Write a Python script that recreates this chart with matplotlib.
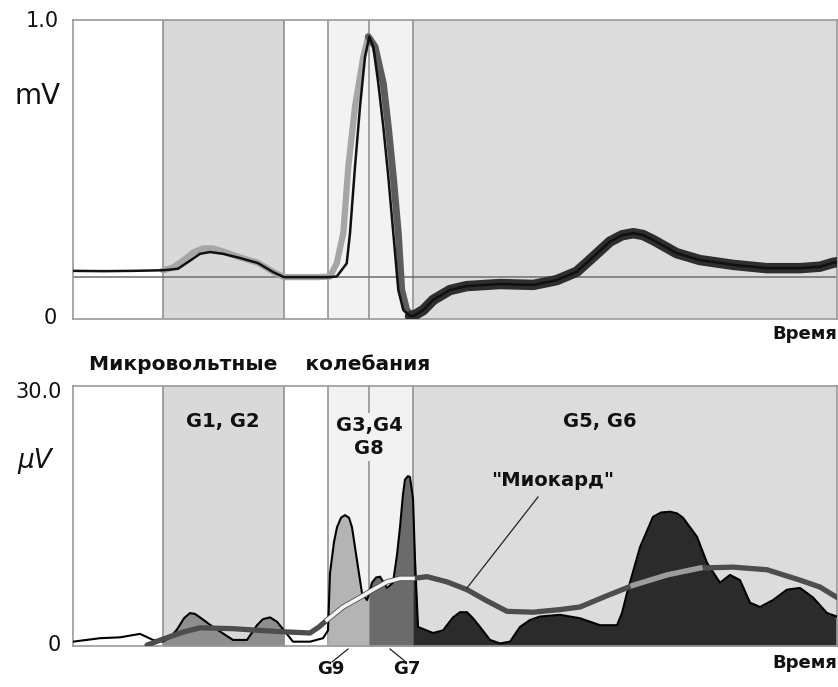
import matplotlib
matplotlib.use('Agg')
import matplotlib.pyplot as plt
import numpy as np

# ---------------- data ----------------
zone_edges = [0, 90, 211, 255, 296, 340, 764]
zone_colors = ['#ffffff', '#d9d9d9', '#ffffff', '#f2f2f2', '#f2f2f2', '#dcdcdc']
boundaries = [90, 211, 255, 296, 340]
baseline_mv = 0.14

# ECG (mV), black trace
ecg_t = [0, 30, 60, 90, 105, 117, 127, 137, 150, 167, 185, 200, 211, 230, 255,
         263.7, 273.7, 277, 282, 287, 292, 296.3, 300.3, 305.3, 310.3, 315.3, 320.3,
         325.3, 330.3, 337, 340.3, 350.3, 360.3, 377, 393.7, 427, 460.3, 483.7,
         503.7, 520.3, 537, 549, 560.3, 570, 580.3, 603.7, 627, 660.3, 693.7, 727, 747,
         760.3, 764]
ecg_mv = [0.161, 0.160, 0.161, 0.163, 0.168, 0.195, 0.218, 0.224, 0.218, 0.204, 0.187,
          0.157, 0.14, 0.14, 0.14,
          0.142, 0.186, 0.287, 0.509, 0.710, 0.877, 0.944, 0.911, 0.788, 0.643, 0.476,
          0.287, 0.097, 0.030, 0.010, 0.010, 0.030, 0.064, 0.097, 0.110, 0.117, 0.114,
          0.130, 0.158, 0.208, 0.259, 0.280, 0.287, 0.281, 0.264, 0.220, 0.197, 0.181,
          0.170, 0.170, 0.175, 0.188, 0.19]
# ECG (mV), grey overlaid beats
gray_t = [90, 100, 110, 120, 130, 140, 150, 167, 185, 200, 211, 245, 257, 263.7, 270.3,
          275.3, 282, 290.3, 295.3, 302, 310.3, 315.3, 320.3, 325.3, 328.7, 333.7, 340.3]
gray_mv = [0.163, 0.172, 0.195, 0.222, 0.236, 0.236, 0.226, 0.206, 0.188, 0.158, 0.14,
           0.14, 0.142, 0.186, 0.287, 0.509, 0.71, 0.877, 0.944, 0.911, 0.788, 0.643,
           0.476, 0.287, 0.097, 0.030, 0.008]

# micro-voltage signal (uV)
sig_t = [0, 27, 47, 67, 80, 90, 97, 104, 111, 117, 122, 127, 140, 160, 174, 184, 190,
         197, 204, 211, 220, 237, 250, 255, 257, 261, 264, 268, 272, 276, 279, 285, 289,
         294, 296, 299, 303, 307, 314, 320, 324, 327, 330, 332, 335, 337, 340, 342, 345,
         360, 370, 380, 387, 394, 400, 407, 417, 427, 437, 447, 457, 467, 487, 507, 527,
         544, 549, 554, 567, 580, 588, 597, 604, 610, 624, 634, 647, 657, 667, 677, 687,
         700, 714, 727, 740, 754, 764]
sig_uv = [0.5, 0.9, 1.0, 1.4, 0.7, 0.5, 1.0, 1.9, 3.2, 3.8, 3.7, 3.3, 2.2, 0.7, 0.7,
          2.4, 3.1, 3.3, 2.8, 1.8, 0.5, 0.5, 0.9, 1.8, 8.4, 12.0, 13.7, 14.8, 15.1,
          14.8, 13.7, 9.1, 6.1, 5.3, 6.0, 7.3, 7.9, 8.0, 6.7, 7.3, 10.5, 13.7, 17.5, 19.2,
          19.6, 19.5, 17.0, 10.0, 2.2, 1.5, 1.8, 3.3, 3.9, 3.9, 3.2, 2.2, 0.7, 0.3, 0.5,
          2.2, 3.0, 3.4, 3.6, 3.2, 2.4, 2.4, 3.8, 6.1, 11.4, 14.9, 15.4, 15.5, 15.3, 14.8,
          12.6, 9.6, 7.3, 8.2, 7.6, 5.0, 4.5, 5.3, 6.5, 6.7, 5.6, 3.8, 3.4]
fill_zones = [(90, 211, '#8e8e8e'), (255, 296, '#b4b4b4'), (296, 340, '#6b6b6b'),
              (340, 764, '#2b2b2b')]

# "Myocardium" curve (uV)
myo_t = [74, 90, 110, 127, 160, 200, 237, 246, 254, 270, 287, 300, 314, 327, 340, 354,
         374, 394, 414, 434, 460, 487, 507, 534, 560, 594, 627, 660, 694, 727, 747, 764]
myo_uv = [0.1, 0.8, 1.6, 2.1, 2.0, 1.7, 1.5, 2.2, 3.0, 4.5, 5.6, 6.5, 7.4, 7.8, 7.8, 8.0,
          7.4, 6.5, 5.2, 4.0, 3.9, 4.2, 4.5, 5.8, 7.0, 8.2, 9.0, 9.1, 8.8, 7.6, 6.8, 5.6]

# ---------------- figure ----------------
W, H = 838, 687
fig = plt.figure(figsize=(W / 100, H / 100), dpi=100)
FONT = 'DejaVu Sans'


def fpos(x, y):
    return x / W, 1 - y / H


ax1 = fig.add_axes([73 / W, 1 - 319 / H, 764 / W, 299 / H])
ax2 = fig.add_axes([73 / W, 1 - 646 / H, 764 / W, 260 / H])

for ax, ymax in ((ax1, 1.0), (ax2, 30.0)):
    ax.set_xlim(0, 764)
    ax.set_ylim(0, ymax)
    ax.set_xticks([])
    ax.set_yticks([])
    for s in ax.spines.values():
        s.set_color('#9a9a9a')
        s.set_linewidth(1.2)
    for a, b, c in zip(zone_edges[:-1], zone_edges[1:], zone_colors):
        ax.axvspan(a, b, color=c, zorder=0, lw=0)
    for b in boundaries:
        ax.axvline(b, color='#8c8c8c', lw=1.1, zorder=1)

# top panel
ax1.axhline(baseline_mv, color='#6e6e6e', lw=1.1, zorder=1)
gt = np.array(gray_t)
gm = np.array(gray_mv)
ax1.plot(gt, np.where(gt <= 296, gm, np.nan), color='#a6a6a6', lw=4.5, zorder=2,
         solid_capstyle='round')
ax1.plot(gt, np.where(gt >= 295, gm, np.nan), color='#5c5c5c', lw=5, zorder=2,
         solid_capstyle='round')
et = np.array(ecg_t)
em = np.array(ecg_mv)
ax1.plot(et, np.where(et >= 337, em, np.nan), color='#2e2e2e', lw=7.5, zorder=3,
         solid_capstyle='round', solid_joinstyle='round')
ax1.plot(et, em, color='#101010', lw=1.8, zorder=4, solid_joinstyle='round')

# bottom panel
st = np.array(sig_t)
su = np.array(sig_uv)
for a, b, c in fill_zones:
    m = (st >= a) & (st <= b)
    ax2.fill_between(st, 0, su, where=m, color=c, lw=0, zorder=2)
ax2.plot(st, su, color='#000000', lw=1.5, zorder=3, solid_joinstyle='round')
mt = np.array(myo_t)
mu = np.array(myo_uv)
ax2.plot(mt, mu, color='#4d4d4d', lw=3.8, zorder=4, solid_capstyle='round',
         solid_joinstyle='round')
ax2.plot(mt, np.where((mt >= 254) & (mt <= 340), mu, np.nan), color='#f4f4f4', lw=2.6,
         zorder=5, solid_joinstyle='round')
ax2.plot(mt, np.where((mt >= 560) & (mt <= 627), mu, np.nan), color='#9c9c9c', lw=3.8,
         zorder=5, solid_joinstyle='round')

# ---------------- texts ----------------
def ftext(x, y, s, size, ha='center', weight='normal', style='normal', bg=None):
    kw = {}
    if bg is not None:
        kw['bbox'] = dict(facecolor=bg, edgecolor='none', pad=1.5)
    fig.text(*fpos(x, y), s, fontsize=size, ha=ha, va='center', family=FONT,
             weight=weight, style=style, color='#111111', zorder=10, **kw)

ftext(59, 21, '1.0', 15, ha='right')
ftext(38, 96, 'mV', 20)
ftext(50, 318, '0', 15)
ftext(837, 334, 'Время', 13, ha='right', weight='bold')
ftext(89, 364, 'Микровольтные    колебания', 14.5, ha='left', weight='bold')
ftext(62, 392, '30.0', 15, ha='right')
ftext(35, 461, 'μV', 19, style='italic')
ftext(54, 645, '0', 15)
ftext(223, 422, 'G1, G2', 14, weight='bold')
ftext(369, 425, 'G3,G4', 14, weight='bold', bg='#f2f2f2')
ftext(369, 449, 'G8', 14, weight='bold', bg='#f2f2f2')
ftext(600, 422, 'G5, G6', 14, weight='bold')
ftext(553, 480, '"Миокард"', 14, weight='bold')
ftext(331, 669, 'G9', 13, weight='bold')
ftext(407, 669, 'G7', 13, weight='bold')
ftext(837, 663, 'Время', 13, ha='right', weight='bold')

# leader lines (figure pixel coordinates)
for (x0, y0), (x1, y1) in [((538, 497), (467, 588)), ((348, 649), (332, 662)),
                           ((390, 649), (406, 662))]:
    p0 = fpos(x0, y0)
    p1 = fpos(x1, y1)
    fig.add_artist(plt.Line2D([p0[0], p1[0]], [p0[1], p1[1]], color='#222222', lw=0.9,
                              zorder=9))

fig.savefig('out.png', dpi=100, facecolor='white')
